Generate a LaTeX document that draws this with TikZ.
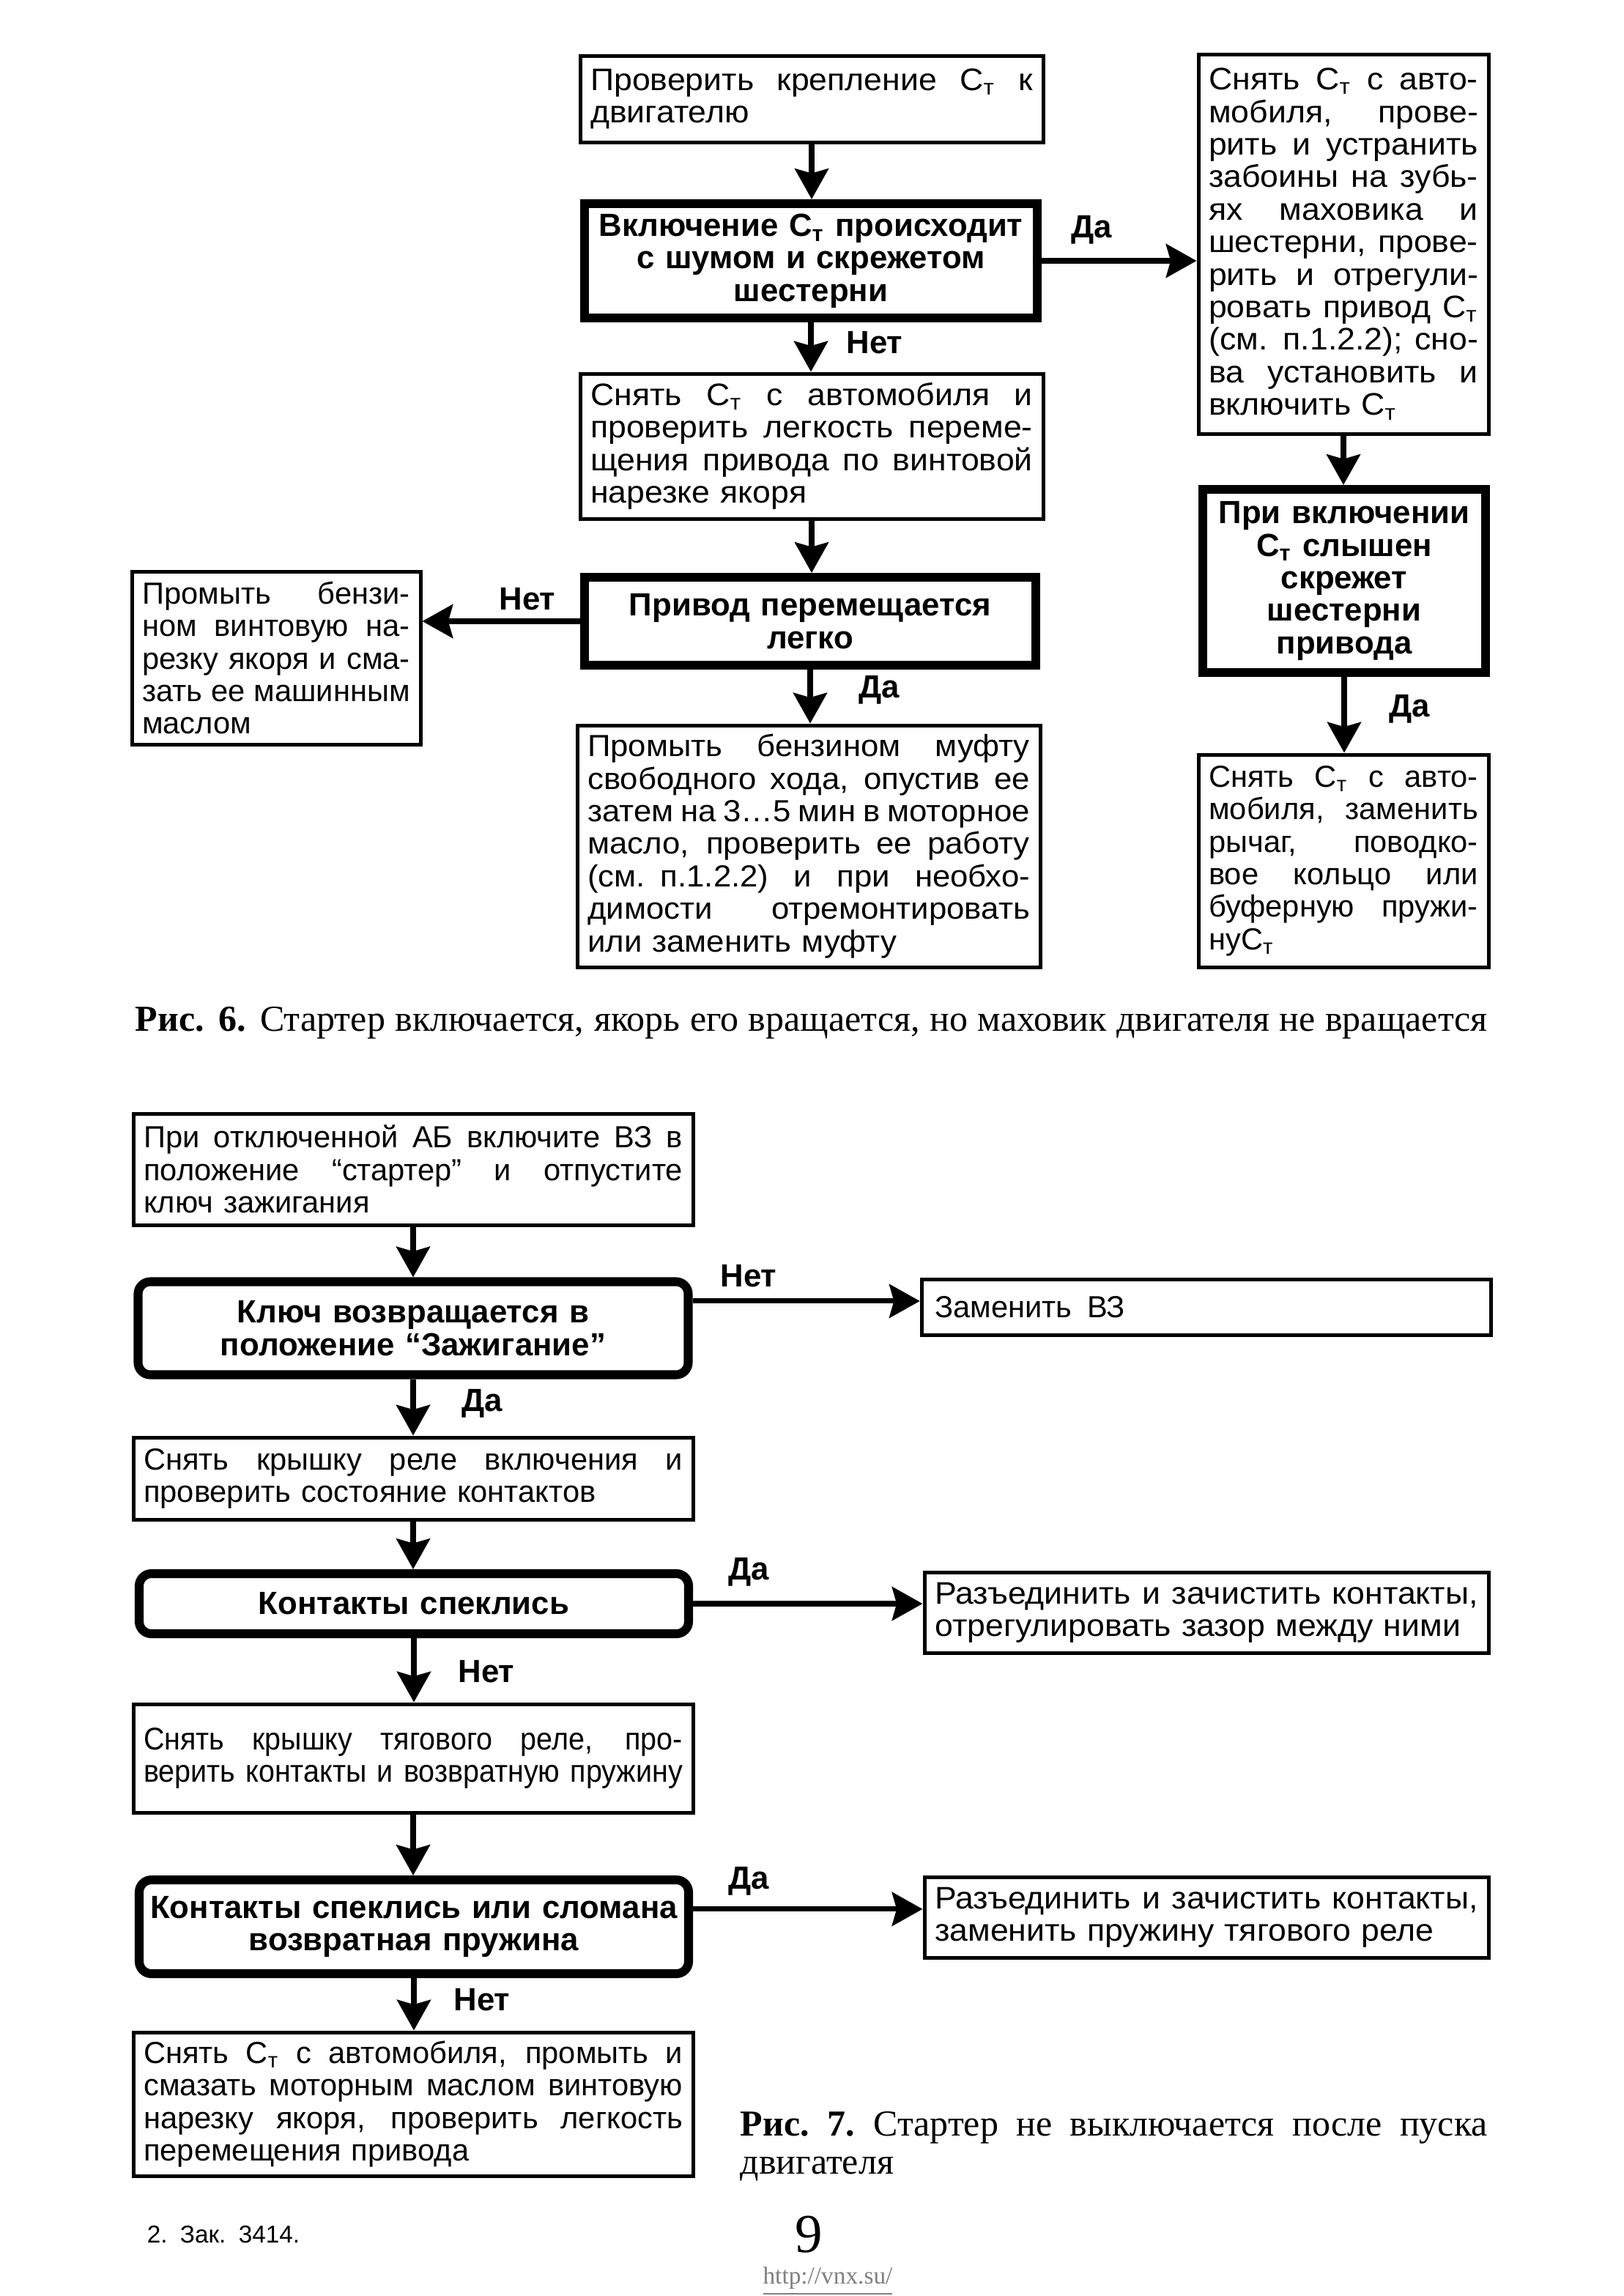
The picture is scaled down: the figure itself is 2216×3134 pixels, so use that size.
\documentclass[tikz,border=0pt]{standalone}
\usepackage{fontspec}
\setmainfont{Liberation Sans}
\newfontfamily\capserif{Liberation Serif}
\newfontfamily\narsans{Liberation Sans}[FakeStretch=0.92]
\newfontfamily\widesans{Liberation Sans}[FakeStretch=1.05]
\usetikzlibrary{arrows.meta,calc}
\newlength\jw
\newcommand\Ct{С\textsubscript{т}}
\newcommand\J[1]{\makebox[\jw][s]{\spaceskip=.3333em plus 2em minus .15em\relax #1}}
\newcommand\bxfont{\fontsize{10pt}{10.66pt}\selectfont}
\newcommand\nxfont{\narsans\fontsize{10.3pt}{10.66pt}\selectfont}
\newcommand\wxfont{\widesans\fontsize{10.2pt}{10.66pt}\selectfont}
\newcommand\fxfont{\widesans\fontsize{10pt}{10.66pt}\selectfont}
\newcommand\bdfont{\fontsize{10.5pt}{10.66pt}\selectfont\bfseries}
\tikzset{
  sz/.style 2 args={minimum width={#1*0.24pt}, minimum height={#2*0.24pt},
    /utils/exec={\pgfmathsetlength{\jw}{#1*0.24pt-6.8pt}\global\jw=\jw}, text width=\jw},
  szk/.style 2 args={minimum width={#1*0.24pt}, minimum height={#2*0.24pt},
    /utils/exec={\pgfmathsetlength{\jw}{#1*0.24pt-4pt}\global\jw=\jw}, text width=\jw},
  thinbox/.style={draw, line width=1.2pt, inner xsep=3.4pt, inner ysep=0pt, align=left, font=\bxfont},
  nbox/.style={thinbox, font=\nxfont},
  wbox/.style={thinbox, font=\wxfont},
  fbox/.style={thinbox, font=\fxfont},
  thickbox/.style={draw, line width=2.9pt, inner xsep=2pt, inner ysep=0pt, align=center, font=\bdfont},
  rthickbox/.style={thickbox, rounded corners=4pt},
  arr/.style={line width=1.7pt, -{Stealth[length=10pt,width=11pt,inset=1.5pt]}},
  lbl/.style={font=\bdfont, inner sep=0pt},
}
\begin{document}
\begin{tikzpicture}[x=0.24pt,y=-0.24pt]
\fill[white] (0,0) rectangle (2216,3134);
\useasboundingbox (0,0) rectangle (2216,3134);

% ---------- Fig. 6 ----------
\node[wbox, sz={632}{118}] (A) at (1108,135)
  {\J{Проверить крепление \Ct{} к}\\ двигателю};
\node[thickbox, szk={618}{156}] (B) at (1107,356)
  {Включение \Ct{} происходит\\ с шумом и скрежетом\\ шестерни};
\node[wbox, sz={632}{198}] (C) at (1108,609)
  {\J{Снять \Ct{} с автомобиля и}\\ \J{проверить легкость переме-}\\ \J{щения привода по винтовой}\\ нарезке якоря};
\node[thickbox, szk={616}{120}] (D) at (1106,848)
  {Привод перемещается\\ легко};
\node[thinbox, sz={394}{236}] (E) at (377,898)
  {\J{Промыть бензи-}\\ \J{ном винтовую на-}\\ \J{резку якоря и сма-}\\ \J{зать ее машинным}\\ маслом};
\node[fbox, sz={632}{330}] (F) at (1104,1155)
  {\J{Промыть бензином муфту}\\ \J{свободного хода, опустив ее}\\ \J{затем на 3…5 мин в моторное}\\ \J{масло, проверить ее работу}\\ \J{(см. п.1.2.2) и при необхо-}\\ \J{димости отремонтировать}\\ или заменить муфту};
\node[wbox, sz={396}{518}] (G) at (1834,333)
  {\J{Снять \Ct{} с авто-}\\ \J{мобиля, прове-}\\ \J{рить и устранить}\\ \J{забоины на зубь-}\\ \J{ях маховика и}\\ \J{шестерни, прове-}\\ \J{рить и отрегули-}\\ \J{ровать привод \Ct}\\ \J{(см. п.1.2.2); сно-}\\ \J{ва установить и}\\ включить \Ct};
\node[thickbox, szk={386}{250}] (H) at (1835,793)
  {При включении\\ \Ct{} слышен\\ скрежет\\ шестерни\\ привода};
\node[thinbox, sz={396}{290}] (I) at (1834,1175)
  {\J{Снять \Ct{} с авто-}\\ \J{мобиля, заменить}\\ \J{рычаг, поводко-}\\ \J{вое кольцо или}\\ \J{буферную пружи-}\\ ну\Ct};

\draw[arr] (A.south) -- (A.south |- B.north);
\draw[arr] (B.south) -- (B.south |- C.north);
\draw[arr] (C.south) -- (C.south |- D.north);
\draw[arr] (D.south) -- (D.south |- F.north);
\draw[arr] (D.west) -- (D.west -| E.east);
\draw[arr] (B.east) -- (B.east -| G.west);
\draw[arr] (G.south) -- (G.south |- H.north);
\draw[arr] (H.south) -- (H.south |- I.north);

\node[lbl] (l1) at (1490,314) {Да};
\node[lbl] (l2) at (1194,468) {Нет};
\node[lbl] (l3) at (720,818) {Нет};
\node[lbl] (l4) at (1200,942) {Да};
\node[lbl] (l5) at (1924,968) {Да};

\node[anchor=west, inner sep=0pt, font=\capserif\fontsize{12pt}{12.5pt}\selectfont] (cap6) at (184,1396)
  {\makebox[443pt][s]{\textbf{Рис. 6.} Стартер включается, якорь его вращается, но маховик двигателя не вращается}};

% ---------- Fig. 7 ----------
\node[thinbox, sz={764}{152}] (J) at (564,1596)
  {\J{При отключенной АБ включите ВЗ в}\\ \J{положение “стартер” и отпустите}\\ ключ зажигания};
\node[rthickbox, szk={751}{127}] (K) at (564,1813)
  {Ключ возвращается в\\ положение “Зажигание”};
\node[thinbox, sz={770}{76}, inner xsep=4.3pt] (L) at (1647,1784)
  {Заменить\enspace ВЗ};
\node[thinbox, sz={764}{112}] (M) at (564,2018)
  {\J{Снять крышку реле включения и}\\ проверить состояние контактов};
\node[rthickbox, szk={750}{82}] (N) at (565,2189)
  {Контакты спеклись};
\node[wbox, sz={770}{110}] (O) at (1647,2201)
  {\J{Разъединить и зачистить контакты,}\\ отрегулировать зазор между ними};
\node[nbox, sz={764}{148}] (P) at (564,2400)
  {\J{Снять крышку тягового реле, про-}\\ \J{верить контакты и возвратную пружину}};
\node[rthickbox, szk={750}{128}] (Q) at (565,2630)
  {Контакты спеклись или сломана\\ возвратная пружина};
\node[wbox, sz={770}{110}] (R) at (1647,2617)
  {\J{Разъединить и зачистить контакты,}\\ заменить пружину тягового реле};
\node[thinbox, sz={764}{196}] (S) at (564,2872)
  {\J{Снять \Ct{} с автомобиля, промыть и}\\ \J{смазать моторным маслом винтовую}\\ \J{нарезку якоря, проверить легкость}\\ перемещения привода};

\draw[arr] (J.south) -- (J.south |- K.north);
\draw[arr] (K.south) -- (K.south |- M.north);
\draw[arr] (M.south) -- (M.south |- N.north);
\draw[arr] (N.south) -- (N.south |- P.north);
\draw[arr] (P.south) -- (P.south |- Q.north);
\draw[arr] (Q.south) -- (Q.south |- S.north);
\draw[arr] ([yshift=8.9pt]K.east) -- ([yshift=8.9pt]K.east -| L.west);
\draw[arr] (N.east) -- (N.east -| O.west);
\draw[arr] ([yshift=5.8pt]Q.east) -- ([yshift=5.8pt]Q.east -| R.west);

\node[lbl] (m1) at (1022,1742) {Нет};
\node[lbl] (m2) at (658,1916) {Да};
\node[lbl] (m3) at (1022,2146) {Да};
\node[lbl] (m4) at (664,2282) {Нет};
\node[lbl] (m5) at (1022,2568) {Да};
\node[lbl] (m6) at (658,2730) {Нет};

\node[anchor=west, inner sep=0pt, text width=244.8pt, align=left, font=\capserif\fontsize{12pt}{12.5pt}\selectfont,
  /utils/exec={\global\jw=244.8pt}] (cap7) at (1010,2930)
  {\J{\textbf{Рис. 7.} Стартер не выключается после пуска}\\ двигателя};

% ---------- footer ----------
\node[inner sep=0pt, font=\fontsize{8pt}{9pt}\selectfont] (ftr) at (305,3050) {\makebox[50pt][s]{2. Зак. 3414.}};
\node[inner sep=0pt, font=\capserif\fontsize{18pt}{20pt}\selectfont] (pg) at (1104,3050) {9};
\node[inner sep=0pt, text=gray, font=\capserif\fontsize{8pt}{9pt}\selectfont] (url) at (1130,3114) {\underline{http://vnx.su/}};
\end{tikzpicture}
\end{document}
